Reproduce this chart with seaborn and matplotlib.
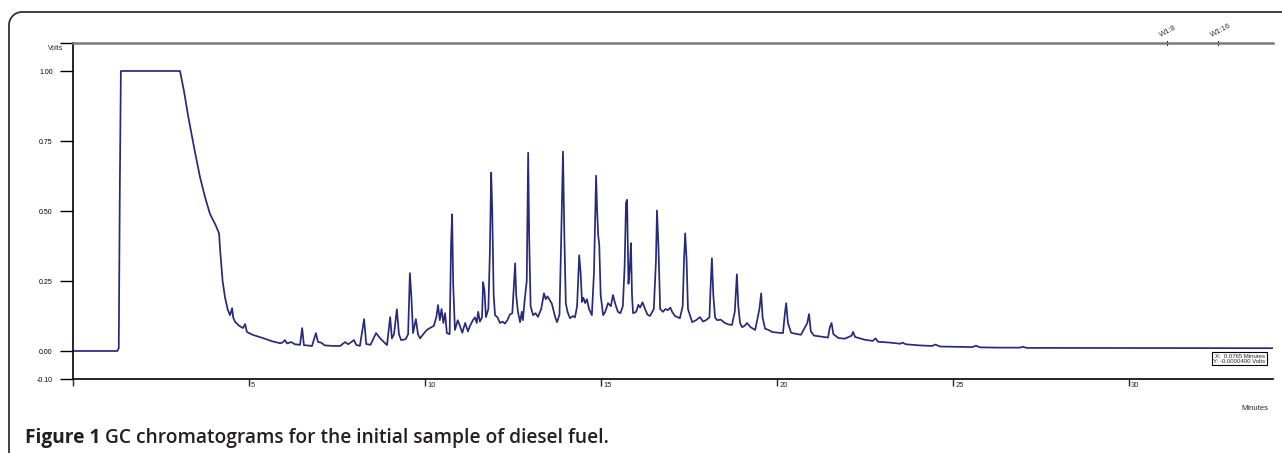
import numpy as np
import pandas as pd
import matplotlib
matplotlib.use("Agg")
import matplotlib.pyplot as plt
import matplotlib.transforms as mtrans
from matplotlib.patches import Arc
from matplotlib.lines import Line2D
import seaborn as sns

# retention time (min) and detector signal (V)
minutes = [0.0, 1.26, 1.30, 1.33, 1.36, 3.04, 3.15, 3.27, 3.45, 3.61, 3.75, 3.89, 4.05, 4.15,
           4.18, 4.25, 4.32, 4.40, 4.46, 4.52, 4.55, 4.60, 4.72, 4.83, 4.89, 4.94, 5.10, 5.40,
           5.65, 5.88, 5.95, 6.02, 6.08, 6.20, 6.30, 6.45, 6.51, 6.56, 6.79, 6.90, 6.96, 7.05,
           7.15, 7.40, 7.59, 7.73, 7.82, 7.98, 8.05, 8.15, 8.27, 8.33, 8.45, 8.61, 8.72, 8.85,
           8.92, 9.01, 9.06, 9.12, 9.20, 9.26, 9.32, 9.45, 9.52, 9.57, 9.61, 9.66, 9.74, 9.80,
           9.86, 9.95, 10.05, 10.14, 10.25, 10.32, 10.37, 10.42, 10.47, 10.52, 10.57, 10.62,
           10.70, 10.74, 10.77, 10.80, 10.85, 10.93, 10.99, 11.06, 11.14, 11.22, 11.28, 11.36,
           11.42, 11.47, 11.51, 11.56, 11.62, 11.65, 11.69, 11.73, 11.80, 11.84, 11.88, 11.91,
           11.95, 11.99, 12.06, 12.13, 12.20, 12.27, 12.34, 12.41, 12.48, 12.53, 12.56, 12.59,
           12.64, 12.70, 12.75, 12.78, 12.83, 12.89, 12.93, 12.96, 13.00, 13.07, 13.14, 13.21,
           13.30, 13.38, 13.43, 13.48, 13.55, 13.60, 13.64, 13.70, 13.75, 13.82, 13.86, 13.92,
           13.96, 14.00, 14.05, 14.12, 14.20, 14.26, 14.32, 14.38, 14.42, 14.46, 14.50, 14.55,
           14.60, 14.66, 14.74, 14.80, 14.86, 14.89, 14.92, 14.95, 14.99, 15.06, 15.12, 15.20,
           15.28, 15.34, 15.40, 15.48, 15.55, 15.62, 15.67, 15.71, 15.74, 15.78, 15.82, 15.85,
           15.88, 15.91, 16.00, 16.06, 16.11, 16.18, 16.25, 16.32, 16.39, 16.50, 16.56, 16.59,
           16.63, 16.68, 16.76, 16.83, 16.90, 16.97, 17.02, 17.10, 17.24, 17.32, 17.36, 17.39,
           17.43, 17.47, 17.59, 17.70, 17.81, 17.90, 17.98, 18.08, 18.12, 18.15, 18.19, 18.24,
           18.30, 18.40, 18.52, 18.62, 18.72, 18.80, 18.86, 18.90, 18.95, 19.01, 19.08, 19.15,
           19.25, 19.38, 19.50, 19.55, 19.59, 19.66, 19.76, 19.86, 20.05, 20.17, 20.22, 20.26,
           20.31, 20.40, 20.51, 20.68, 20.86, 20.91, 20.96, 21.05, 21.22, 21.45, 21.50, 21.55,
           21.60, 21.75, 21.93, 22.12, 22.16, 22.22, 22.50, 22.72, 22.80, 22.87, 23.21, 23.50,
           23.56, 23.66, 24.06, 24.40, 24.50, 24.63, 25.20, 25.55, 25.65, 25.77, 26.34, 26.90,
           26.98, 27.10, 27.84, 34.09]
volts = [0.000, 0.000, 0.010, 0.580, 1.000, 1.000, 0.930, 0.840, 0.720, 0.620, 0.550, 0.490,
         0.450, 0.420, 0.360, 0.250, 0.190, 0.146, 0.128, 0.153, 0.120, 0.105, 0.090, 0.082,
         0.096, 0.068, 0.058, 0.046, 0.035, 0.028, 0.030, 0.039, 0.027, 0.032, 0.024, 0.022,
         0.082, 0.021, 0.018, 0.064, 0.032, 0.030, 0.020, 0.018, 0.018, 0.032, 0.024, 0.039,
         0.022, 0.018, 0.114, 0.025, 0.022, 0.064, 0.046, 0.030, 0.021, 0.121, 0.045, 0.060,
         0.149, 0.060, 0.039, 0.042, 0.060, 0.278, 0.200, 0.064, 0.114, 0.060, 0.045, 0.060,
         0.075, 0.082, 0.090, 0.120, 0.164, 0.110, 0.150, 0.100, 0.135, 0.064, 0.060, 0.380,
         0.488, 0.240, 0.075, 0.110, 0.090, 0.065, 0.100, 0.070, 0.090, 0.110, 0.120, 0.100,
         0.140, 0.105, 0.120, 0.246, 0.215, 0.121, 0.150, 0.340, 0.637, 0.500, 0.200, 0.128,
         0.120, 0.100, 0.105, 0.098, 0.110, 0.130, 0.135, 0.250, 0.313, 0.200, 0.140, 0.103,
         0.140, 0.110, 0.180, 0.250, 0.708, 0.400, 0.160, 0.128, 0.135, 0.122, 0.150, 0.206,
         0.185, 0.195, 0.180, 0.170, 0.150, 0.120, 0.103, 0.130, 0.350, 0.712, 0.400, 0.170,
         0.139, 0.117, 0.125, 0.120, 0.160, 0.342, 0.280, 0.175, 0.190, 0.171, 0.185, 0.150,
         0.128, 0.280, 0.626, 0.500, 0.413, 0.380, 0.200, 0.128, 0.140, 0.171, 0.160, 0.200,
         0.170, 0.140, 0.135, 0.160, 0.300, 0.530, 0.540, 0.240, 0.300, 0.385, 0.200, 0.135,
         0.140, 0.165, 0.155, 0.174, 0.150, 0.130, 0.125, 0.150, 0.320, 0.502, 0.380, 0.150,
         0.140, 0.150, 0.146, 0.155, 0.140, 0.125, 0.117, 0.160, 0.330, 0.420, 0.330, 0.150,
         0.103, 0.110, 0.121, 0.105, 0.110, 0.120, 0.250, 0.331, 0.200, 0.120, 0.110, 0.112,
         0.100, 0.095, 0.093, 0.140, 0.274, 0.160, 0.100, 0.085, 0.090, 0.100, 0.085, 0.075,
         0.150, 0.206, 0.120, 0.080, 0.075, 0.068, 0.065, 0.064, 0.130, 0.171, 0.100, 0.065,
         0.062, 0.058, 0.100, 0.132, 0.070, 0.055, 0.052, 0.048, 0.085, 0.100, 0.060, 0.046,
         0.044, 0.055, 0.068, 0.050, 0.040, 0.036, 0.045, 0.033, 0.030, 0.026, 0.030, 0.024,
         0.020, 0.018, 0.023, 0.016, 0.015, 0.014, 0.019, 0.013, 0.012, 0.012, 0.015, 0.011,
         0.011, 0.010]

x_ticks = [0, 5, 10, 15, 20, 25, 30]
x_labels = ["", "5", "10", "15", "20", "25", "30"]
y_ticks = [-0.10, 0.00, 0.25, 0.50, 0.75, 1.00, 1.10]
y_labels = ["-0.10", "0.00", "0.25", "0.50", "0.75", "1.00", ""]
marker_pos = [31.08, 32.53]
marker_names = ["W1:8", "W1:16"]
x_end = 34.09

trace = pd.DataFrame({"Minutes": minutes, "Volts": volts})

sns.set_style("white")
plt.rcParams["font.family"] = ["Liberation Sans", "DejaVu Sans"]

W, H = 1282, 453
fig = plt.figure(figsize=(W / 100, H / 100), dpi=100)
ax = fig.add_axes([73 / W, (H - 379) / H, 1200 / W, 336 / H])

sns.lineplot(data=trace, x="Minutes", y="Volts", ax=ax, color="#262a78",
             lw=1.25, estimator=None, sort=False)

ax.set_xlim(0, x_end)
ax.set_ylim(-0.10, 1.10)
ax.set_xlabel("")
ax.set_ylabel("")

for s in ["left", "bottom"]:
    ax.spines[s].set_color("black")
    ax.spines[s].set_linewidth(1.2)
ax.spines["right"].set_visible(False)
ax.spines["top"].set_color("#7a7a7a")
ax.spines["top"].set_linewidth(1.8)

ax.set_yticks(y_ticks, y_labels)
ax.tick_params(axis="y", direction="out", length=9.5, width=1.0, pad=5,
               labelsize=5, left=True, colors="black")
ax.set_xticks(x_ticks, x_labels)
ax.tick_params(axis="x", direction="out", length=5, width=1.0, pad=-3,
               labelsize=5.5, bottom=True)
offs = mtrans.ScaledTranslation(1.5 / 72, 0, fig.dpi_scale_trans)
for lab in ax.get_xticklabels():
    lab.set_horizontalalignment("left")
    lab.set_transform(lab.get_transform() + offs)
ax.set_xticks([x_end], minor=True)
ax.tick_params(axis="x", which="minor", direction="out", length=12, width=1.0)

ax.annotate("Volts", xy=(0, 1.10), xycoords=("axes fraction", "data"),
            xytext=(-7, -4), textcoords="offset points", ha="right", va="center",
            fontsize=5)

# retention markers on the top rule
for pos, name in zip(marker_pos, marker_names):
    ax.plot([pos, pos], [1.093, 1.107], color="black", lw=0.8, clip_on=False)
    ax.annotate(name, xy=(pos, 1.10), xytext=(-4, 3), textcoords="offset points",
                rotation=28, rotation_mode="anchor", ha="left", va="bottom",
                fontsize=5.5, color="#333333", annotation_clip=False)

ax.text(0.9935, 0.045, "X:  0.0765 Minutes\nY: -0.0000400 Volts", transform=ax.transAxes,
        ha="right", va="bottom", fontsize=4.3, linespacing=1.0,
        bbox=dict(boxstyle="square,pad=0.25", fc="white", ec="black", lw=0.8))

fig.text(1268 / W, 1 - 408 / H, "Minutes", ha="right", va="center", fontsize=5.5)

# outer frame: rounded top-left corner, open towards the bottom and right
r = 13
px = mtrans.IdentityTransform()
fcol = "#333333"
fig.add_artist(Line2D([9 / W, 9 / W], [-0.2, 1 - (12 + r) / H], transform=fig.transFigure,
                      color=fcol, lw=1.3, solid_capstyle="butt"))
fig.add_artist(Line2D([9 + r, W + 5], [H - 12, H - 12], transform=px, color=fcol, lw=1.3))
fig.add_artist(Arc((9 + r, H - 12 - r), 2 * r, 2 * r, theta1=90, theta2=180,
                   transform=px, color=fcol, lw=1.3))

cap = fig.text(25 / W, 1 - 443 / H, "Figure 1", ha="left", va="baseline", fontsize=13.8,
               fontweight="bold", color="#231f20", family=["Open Sans", "DejaVu Sans"])
ax.annotate(" GC chromatograms for the initial sample of diesel fuel.", xy=(1, 0),
            xycoords=cap, ha="left", va="bottom", fontsize=13.8, fontweight="semibold",
            color="#231f20", family=["Open Sans", "DejaVu Sans"], annotation_clip=False)

fig.savefig("out.png", dpi=100)
